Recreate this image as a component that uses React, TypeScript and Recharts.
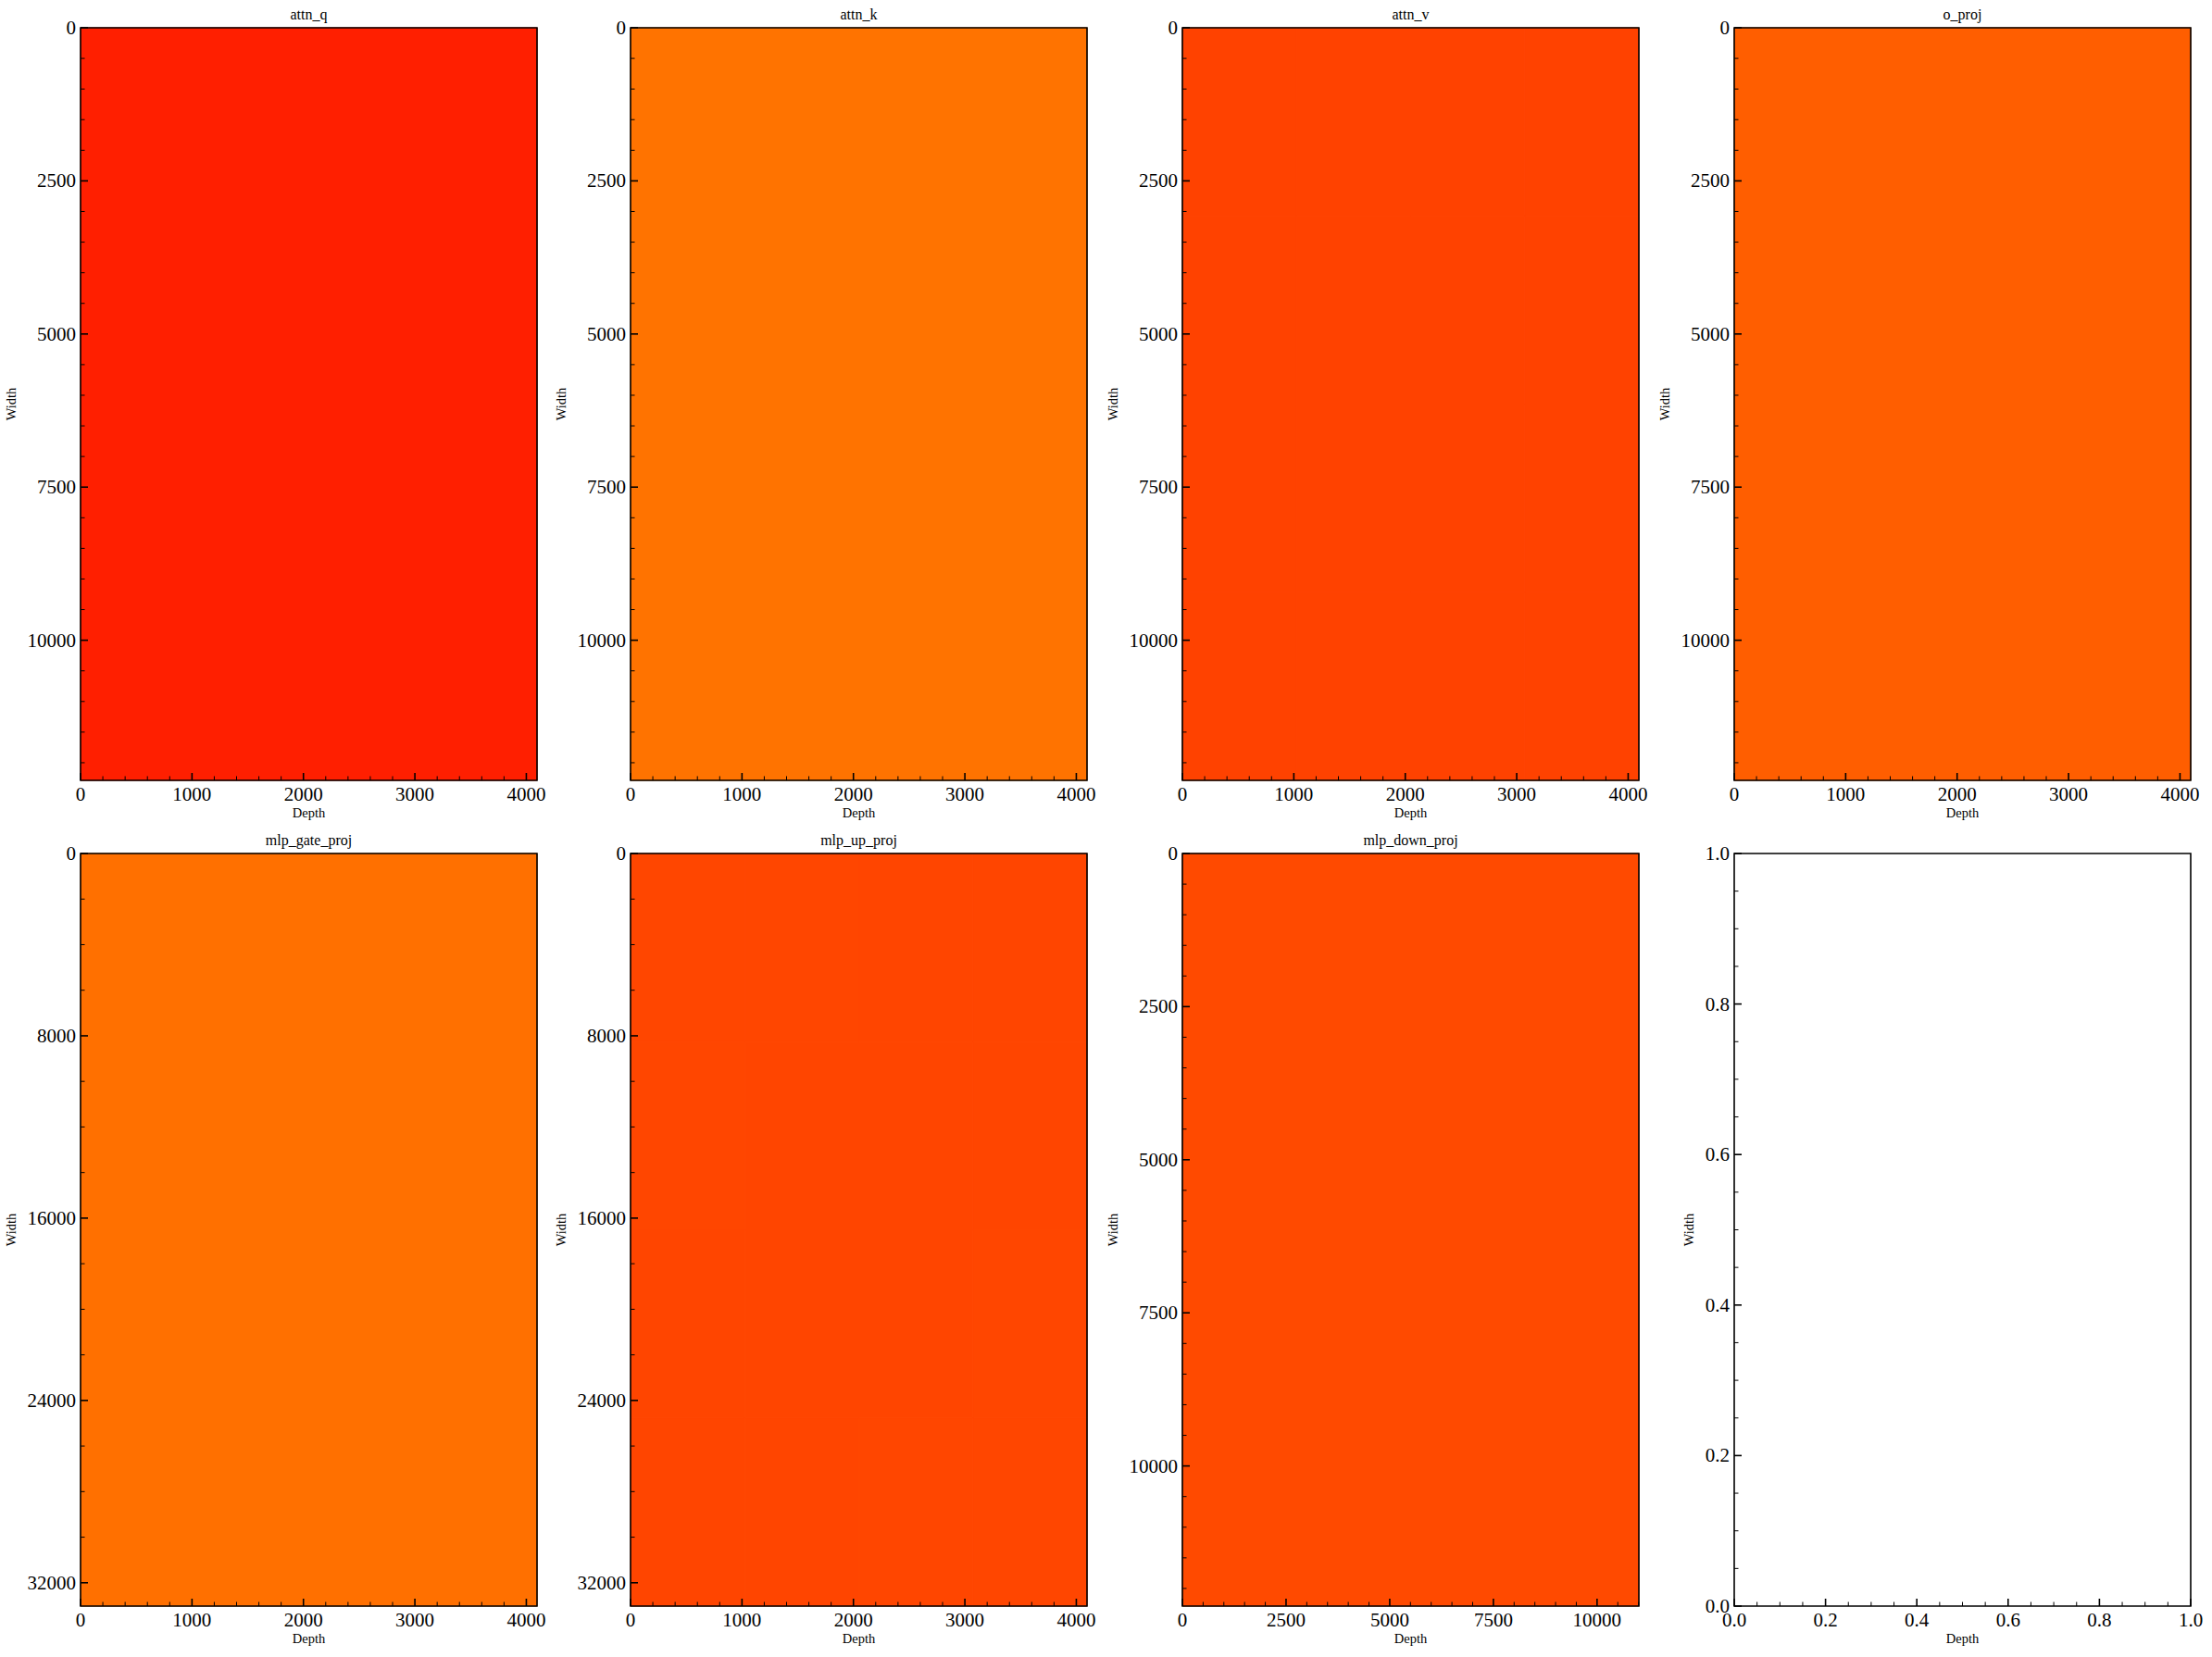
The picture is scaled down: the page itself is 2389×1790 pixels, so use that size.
import React from 'react';
import { ComposedChart, XAxis, YAxis, ReferenceArea } from 'recharts';

const FONT = '"Liberation Serif", "DejaVu Serif", serif';

// panel order: row by row, left to right
const panelTitles = ['attn_q', 'attn_k', 'attn_v', 'o_proj', 'mlp_gate_proj', 'mlp_up_proj', 'mlp_down_proj', ''];
const depthSizes = [4096, 4096, 4096, 4096, 4096, 4096, 11008, 1];
const widthSizes = [12288, 12288, 12288, 12288, 33024, 33024, 12288, 1];

// tick labels
const depthTicks4096 = [0, 1000, 2000, 3000, 4000];
const depthTicks11008 = [0, 2500, 5000, 7500, 10000];
const widthTicks12288 = [0, 2500, 5000, 7500, 10000];
const widthTicks33024 = [0, 8000, 16000, 24000, 32000];
const unitTicks = [0, 0.2, 0.4, 0.6, 0.8, 1.0];

// heatmap levels on the autumn colormap (0 = red, 1 = yellow)
const attnQLevels = [[0.12]];
const attnKLevels = [[0.45]];
const attnVLevels = [
  [0.26, 0.26, 0.26, 0.26],
  [0.26, 0.26, 0.26, 0.26],
  [0.26, 0.26, 0.26, 0.26],
  [0.26, 0.26, 0.26, 0.26],
];
const oProjLevels = [[0.37]];
const mlpGateLevels = [[0.44]];
const mlpUpLevels = [
  [0.274, 0.274, 0.272, 0.272],
  [0.274, 0.272, 0.272, 0.272],
  [0.272, 0.272, 0.272, 0.274],
  [0.272, 0.272, 0.274, 0.274],
];
const mlpDownLevels = [[0.29]];

const levelGrids: (number[][] | null)[] = [
  attnQLevels, attnKLevels, attnVLevels, oProjLevels,
  mlpGateLevels, mlpUpLevels, mlpDownLevels, null,
];
const depthTickSets = [depthTicks4096, depthTicks4096, depthTicks4096, depthTicks4096, depthTicks4096, depthTicks4096, depthTicks11008, unitTicks];
const widthTickSets = [widthTicks12288, widthTicks12288, widthTicks12288, widthTicks12288, widthTicks33024, widthTicks33024, widthTicks12288, unitTicks];
const depthMinorSteps = [200, 200, 200, 200, 200, 200, 500, 0.05];
const widthMinorSteps = [500, 500, 500, 500, 2000, 2000, 500, 0.05];

const PLOT_W = 493;
const PLOT_H = 813;
const CHART_W = 595;
const CHART_H = 892;
const LEFT = 87;
const TOP = 30;
const COL_X = [0, 594, 1190, 1786];
const ROW_Y = [0, 892];
const X_MARGIN = 4;
const Y_MARGIN = 5;

const autumn = (v: number) => `rgb(255, ${Math.round(255 * v)}, 0)`;

const withMinor = (majors: number[], max: number, step: number) => {
  const out = [...majors];
  for (let i = 0; i * step <= max + 1e-9; i++) {
    const v = Math.round(i * step * 1000) / 1000;
    if (!majors.some((m) => Math.abs(m - v) < 1e-9)) out.push(v);
  }
  return out.sort((a, b) => a - b);
};

const isMajor = (v: number, majors: number[]) => majors.some((m) => Math.abs(m - v) < 1e-9);
const fmt = (v: number, unit: boolean) => (unit ? v.toFixed(1) : String(v));

const textWidth = (s: string) => s.split('').reduce((w, c) => w + (c === '.' ? 5.5 : 10.5), 0);

function BottomTick(props: any) {
  const { x, y, payload, majors, unit } = props;
  const major = isMajor(payload.value, majors);
  const axisY = y - X_MARGIN;
  return (
    <g>
      <line x1={x} x2={x} y1={axisY} y2={axisY - (major ? 8 : 4.5)} stroke="#000" strokeWidth={major ? 1.6 : 1} />
      {major && (
        <text x={x} y={axisY + 7} dy="0.71em" textAnchor="middle" fontSize={21} fontFamily={FONT} fill="#000">
          {fmt(payload.value, unit)}
        </text>
      )}
    </g>
  );
}

function LeftTick(props: any) {
  const { x, y, payload, majors, unit } = props;
  const major = isMajor(payload.value, majors);
  const axisX = x + Y_MARGIN;
  return (
    <g>
      <line x1={axisX} x2={axisX + (major ? 8 : 4.5)} y1={y} y2={y} stroke="#000" strokeWidth={major ? 1.6 : 1} />
      {major && (
        <text x={x} y={y} dy="0.33em" textAnchor="end" fontSize={21} fontFamily={FONT} fill="#000">
          {fmt(payload.value, unit)}
        </text>
      )}
    </g>
  );
}

function Panel({ idx }: { idx: number }) {
  const title = panelTitles[idx];
  const depth = depthSizes[idx];
  const width = widthSizes[idx];
  const xMaj = depthTickSets[idx];
  const yMaj = widthTickSets[idx];
  const unit = depth === 1;
  const grid = levelGrids[idx];
  const xTicks = withMinor(xMaj, depth, depthMinorSteps[idx]);
  const yTicks = withMinor(yMaj, width, widthMinorSteps[idx]);
  const labelGap = Y_MARGIN + Math.max(...yMaj.map((v) => textWidth(fmt(v, unit)))) + 17;

  const cells: React.ReactNode[] = [];
  if (grid) {
    const rows = grid.length;
    grid.forEach((row, r) => {
      const cols = row.length;
      row.forEach((lvl, c) => {
        cells.push(
          <ReferenceArea
            key={`c${r}-${c}`}
            x1={(depth * c) / cols}
            x2={(depth * (c + 1)) / cols}
            y1={(width * r) / rows}
            y2={(width * (r + 1)) / rows}
            fill={autumn(lvl)}
            fillOpacity={1}
            stroke={autumn(lvl)}
            strokeWidth={1}
            ifOverflow="visible"
          />
        );
      });
    });
  }

  return (
    <div style={{ position: 'absolute', left: COL_X[idx % 4], top: ROW_Y[Math.floor(idx / 4)] }}>
      <ComposedChart
        width={CHART_W}
        height={CHART_H}
        data={[]}
        margin={{ top: TOP, right: CHART_W - LEFT - PLOT_W, bottom: 0, left: 0 }}
      >
        <XAxis
          type="number"
          dataKey="x"
          domain={[0, depth]}
          allowDataOverflow
          ticks={xTicks}
          interval={0}
          tickSize={0}
          tickMargin={X_MARGIN}
          axisLine={false}
          height={CHART_H - TOP - PLOT_H}
          tick={(p: any) => <BottomTick {...p} majors={xMaj} unit={unit} />}
          label={(p: any) => {
            const vb = p.viewBox || { x: LEFT, y: TOP + PLOT_H, width: PLOT_W };
            return (
              <text x={vb.x + vb.width / 2} y={vb.y + 40} textAnchor="middle" fontSize={14.5} fontFamily={FONT} fill="#000">
                Depth
              </text>
            );
          }}
        />
        <YAxis
          type="number"
          dataKey="y"
          domain={[0, width]}
          allowDataOverflow
          reversed={!unit}
          ticks={yTicks}
          interval={0}
          tickSize={0}
          tickMargin={Y_MARGIN}
          axisLine={false}
          width={LEFT}
          tick={(p: any) => <LeftTick {...p} majors={yMaj} unit={unit} />}
          label={(p: any) => {
            const vb = p.viewBox || { x: 0, y: TOP, width: LEFT, height: PLOT_H };
            const cx = vb.x + vb.width - labelGap;
            const cy = vb.y + vb.height / 2;
            return (
              <text
                x={cx}
                y={cy}
                transform={`rotate(-90 ${cx} ${cy})`}
                textAnchor="middle"
                dy="0.33em"
                fontSize={14.5}
                fontFamily={FONT}
                fill="#000"
              >
                Width
              </text>
            );
          }}
        />
        {cells}
        <ReferenceArea
          x1={0}
          x2={depth}
          y1={0}
          y2={width}
          fill="none"
          stroke="#000"
          strokeWidth={1.6}
          ifOverflow="visible"
          label={(p: any) => {
            const vb = p.viewBox;
            if (!vb || !title) return null;
            return (
              <text x={vb.x + vb.width / 2} y={Math.min(vb.y, vb.y + vb.height) - 9} textAnchor="middle" fontSize={16} fontFamily={FONT} fill="#000">
                {title}
              </text>
            );
          }}
        />
      </ComposedChart>
    </div>
  );
}

export default function App() {
  return (
    <div style={{ position: 'absolute', left: 0, top: 0, width: 2389, height: 1790, background: '#fff' }}>
      {panelTitles.map((_, i) => (
        <Panel key={i} idx={i} />
      ))}
    </div>
  );
}
